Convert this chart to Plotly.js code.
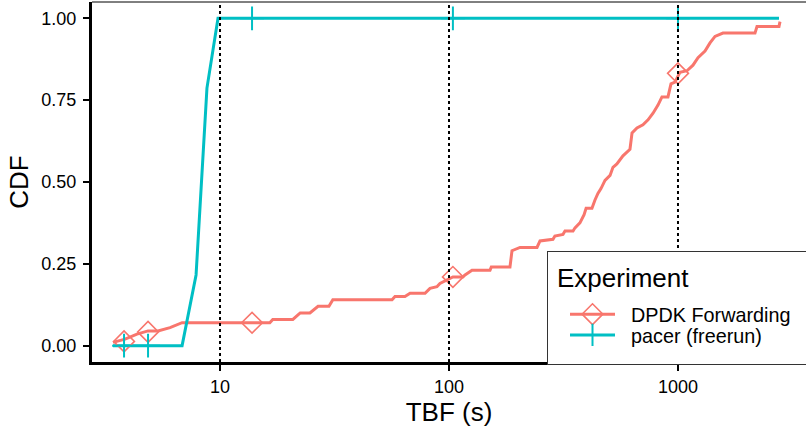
<!DOCTYPE html>
<html>
<head>
<meta charset="utf-8">
<script src="https://cdn.plot.ly/plotly-3.0.1.min.js"></script>
<style>html,body{margin:0;padding:0;background:#fff;}#chart{width:806px;height:431px;}</style>
</head>
<body>
<div id="chart"></div>
<script>
// ---- data ----
const seriesNames = ['DPDK Forwarding', 'pacer (freerun)'];

const dpdkX = [3.41, 3.85, 4.34, 4.85, 5.36, 6.05, 6.83, 16.5, 17.0, 20.8, 22.4, 24.7, 26.8, 29.9, 31.1, 56.4,
  58.1, 64.2, 67.6, 78.6, 82.6, 88.6, 91.3, 98.0, 104, 115, 117.5, 126, 151, 153, 184.6, 188.4, 204.2, 242.3,
  249.7, 284.5, 290, 314.7, 321, 348, 355, 373, 389, 397, 421, 434, 447, 461, 480, 505, 520, 541, 575, 617,
  630, 662, 703, 740, 778, 818, 851, 904, 932, 970, 1020, 1095, 1163, 1223, 1312, 1380, 1451, 1572, 2169,
  2213, 2761, 2789];
const dpdkY = [0.01, 0.02, 0.035, 0.045, 0.045, 0.055, 0.07, 0.07, 0.08, 0.08, 0.10, 0.10, 0.12, 0.12, 0.14, 0.14,
  0.15, 0.15, 0.16, 0.16, 0.175, 0.18, 0.19, 0.20, 0.21, 0.21, 0.216, 0.23, 0.23, 0.24, 0.24, 0.29, 0.30, 0.30,
  0.32, 0.325, 0.335, 0.34, 0.35, 0.35, 0.36, 0.375, 0.40, 0.42, 0.42, 0.445, 0.465, 0.48, 0.505, 0.52, 0.545, 0.555, 0.58, 0.60,
  0.65, 0.665, 0.675, 0.69, 0.71, 0.735, 0.76, 0.76, 0.80, 0.805, 0.835, 0.84, 0.857, 0.88, 0.90, 0.925, 0.945, 0.955, 0.955,
  0.975, 0.975, 0.99];

const pacerX = [3.41, 6.83, 7.86, 8.77, 9.8, 2761];
const pacerY = [0.0, 0.0, 0.216, 0.787, 1.0, 1.0];

// marker positions (shared x), with y per series
const markX = [3.81, 4.85, 13.8, 104, 1000];
const dpdkMarkY = [0.013, 0.042, 0.07, 0.21, 0.832];
const pacerMarkY = [0.0, 0.0, 1.0, 1.0, 1.0];

const xTickVals = [10, 100, 1000];
const xTickText = ['10', '100', '1000'];
const yTickVals = [0, 0.25, 0.5, 0.75, 1.0];
const yTickText = ['0.00', '0.25', '0.50', '0.75', '1.00'];
const refLinesX = [10, 100, 1000];

// ---- styling ----
const colors = ['#F8766D', '#00BFC4'];
const FONT = 'Liberation Sans, Arial, sans-serif';

// isolate markers with nulls so no connecting segments are drawn
function isolate(arr) {
  const out = [];
  arr.forEach((v, i) => { if (i) out.push(null); out.push(v); });
  return out;
}

const traces = [
  {
    x: dpdkX, y: dpdkY, type: 'scatter', mode: 'lines',
    line: {color: colors[0], width: 3}, showlegend: false, legendgroup: 'a', hoverinfo: 'skip'
  },
  {
    x: pacerX, y: pacerY, type: 'scatter', mode: 'lines',
    line: {color: colors[1], width: 3}, showlegend: false, legendgroup: 'b', hoverinfo: 'skip'
  },
  {
    x: isolate(markX), y: isolate(dpdkMarkY), type: 'scatter', mode: 'lines+markers', connectgaps: false,
    name: seriesNames[0], legendgroup: 'a',
    line: {color: colors[0], width: 3},
    marker: {symbol: 'diamond-open', size: 16, color: colors[0], line: {width: 1.6, color: colors[0]}}
  },
  {
    x: isolate(markX), y: isolate(pacerMarkY), type: 'scatter', mode: 'lines+markers', connectgaps: false,
    name: seriesNames[1], legendgroup: 'b',
    line: {color: colors[1], width: 3},
    marker: {symbol: 'cross-thin-open', size: 17, color: colors[1], line: {width: 2, color: colors[1]}}
  }
];

const shapes = refLinesX.map(v => ({
  type: 'line', xref: 'x', yref: 'paper', x0: v, x1: v, y0: 0, y1: 1,
  line: {color: '#000', width: 2, dash: 'dot'}, layer: 'above'
}));
shapes.push({type: 'line', xref: 'paper', yref: 'paper', x0: 0, x1: 1, y0: 1, y1: 1,
  line: {color: '#000', width: 1}, layer: 'above'});

const layout = {
  width: 806, height: 431,
  margin: {l: 92, r: 0, t: 2, b: 69},
  paper_bgcolor: '#fff', plot_bgcolor: '#fff',
  font: {family: FONT, color: '#000'},
  showlegend: true,
  xaxis: {
    type: 'log', range: [0.441, 3.559],
    tickvals: xTickVals, ticktext: xTickText,
    ticks: 'outside', ticklen: 6, tickwidth: 2, tickcolor: '#000',
    showline: true, linewidth: 3, linecolor: '#000',
    showgrid: false, zeroline: false,
    tickfont: {size: 18, color: '#000', family: FONT},
    title: {text: 'TBF (s)', font: {size: 26, color: '#000', family: FONT}, standoff: 5}
  },
  yaxis: {
    range: [-0.05, 1.05],
    tickvals: yTickVals, ticktext: yTickText,
    ticks: 'outside', ticklen: 6, tickwidth: 2, tickcolor: '#000',
    ticklabelstandoff: 3,
    showline: true, linewidth: 3, linecolor: '#000',
    showgrid: false, zeroline: false,
    tickfont: {size: 18, color: '#000', family: FONT},
    title: {text: 'CDF', font: {size: 26, color: '#000', family: FONT}, standoff: 6}
  },
  legend: {
    x: 1, xanchor: 'right', y: 0, yanchor: 'bottom',
    bgcolor: '#fff', bordercolor: '#333', borderwidth: 1,
    font: {size: 19.8, color: '#000', family: FONT},
    title: {text: 'Experiment', font: {size: 26, color: '#000', family: FONT}},
    itemwidth: 45, tracegroupgap: 0, indentation: 10
  },
  shapes: shapes
};

// legend box geometry of the reference (ggplot-style spacing)
const LEG = {left: 547, top: 251, right: 807, bottom: 364, contentDX: 7, titleDY: 1, itemsDY: 8, textDX: 11};

function parseTranslate(s) {
  const m = /translate\(\s*([-\d.e]+)[ ,]+([-\d.e]+)\s*\)/.exec(s || '');
  return m ? [parseFloat(m[1]), parseFloat(m[2])] : [0, 0];
}

function adjustLegend() {
  const gd = document.getElementById('chart');
  const leg = gd.querySelector('g.legend');
  if (!leg) return;
  const bg = leg.querySelector('rect.bg');
  const [lx, ly] = parseTranslate(leg.getAttribute('transform'));
  const box = gd.querySelector('.main-svg').getBoundingClientRect();
  leg.setAttribute('transform', 'translate(' + LEG.left + ',' + LEG.top + ')');
  if (bg) {
    bg.setAttribute('width', LEG.right - LEG.left);
    bg.setAttribute('height', LEG.bottom - LEG.top);
  }
  const sb = leg.querySelector('g.scrollbox');
  if (sb) {
    sb.removeAttribute('clip-path');
    // keep content at same offset relative to new box plus tweaks
    sb.setAttribute('transform', 'translate(' + LEG.contentDX + ',' + LEG.titleDY + ')');
    const groups = sb.querySelector('g.groups');
    if (groups) {
      const [gx, gy] = parseTranslate(groups.getAttribute('transform'));
      groups.setAttribute('transform', 'translate(' + gx + ',' + (gy + LEG.itemsDY) + ')');
    }
  }
  leg.querySelectorAll('text.legendtext').forEach(t => {
    t.setAttribute('x', parseFloat(t.getAttribute('x') || 0) + LEG.textDX);
  });
  leg.querySelectorAll('rect.scrollbar').forEach(r => r.remove());
}

Plotly.newPlot('chart', traces, layout, {staticPlot: true, displayModeBar: false}).then(adjustLegend);
</script>
</body>
</html>
